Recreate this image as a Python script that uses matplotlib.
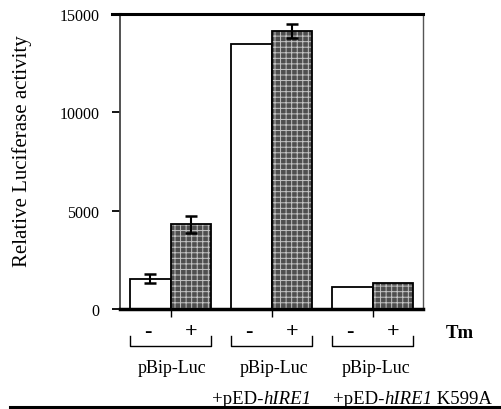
import matplotlib
matplotlib.use("Agg")
import matplotlib.pyplot as plt
from matplotlib.lines import Line2D
import matplotlib.transforms as mtransforms
import numpy as np

# ---- data ----
groups = ["pBip-Luc", "pBip-Luc\n+pED-hIRE1", "pBip-Luc\n+pED-hIRE1 K599A"]
minus_vals = [1550, 13500, 1100]      # Tm -
minus_err = [250, 0, 0]
plus_vals = [4300, 14150, 1300]       # Tm +
plus_err = [450, 350, 0]
yticks = [0, 5000, 10000, 15000]

plt.rcParams['font.family'] = ['Liberation Serif', 'DejaVu Serif']
plt.rcParams['hatch.linewidth'] = 0.7

W, H = 501, 410
fig = plt.figure(figsize=(W / 100, H / 100), dpi=100)
ax = fig.add_axes([120 / W, 1 - 310 / H, 303 / W, 295 / H])

x = np.arange(len(groups))
bw = 0.4
ax.bar(x - bw / 2, minus_vals, width=bw, facecolor='white', edgecolor='black', linewidth=1.3, zorder=2)
ax.bar(x + bw / 2, plus_vals, width=bw, facecolor='#4e4e4e', edgecolor='#c4c4c4', hatch='+++', linewidth=0, zorder=2)
ax.bar(x + bw / 2, plus_vals, width=bw, fill=False, edgecolor='black', linewidth=1.3, zorder=3)

me = np.array(minus_err)
pe = np.array(plus_err)
mask_m = me > 0
mask_p = pe > 0
ax.errorbar((x - bw / 2)[mask_m], np.array(minus_vals)[mask_m], yerr=me[mask_m], fmt='none',
            ecolor='black', elinewidth=1.5, capsize=4, capthick=1.8, zorder=4)
ax.errorbar((x + bw / 2)[mask_p], np.array(plus_vals)[mask_p], yerr=pe[mask_p], fmt='none',
            ecolor='black', elinewidth=1.5, capsize=4, capthick=1.8, zorder=4)

ax.set_xlim(-0.5, 2.5)
ax.set_ylim(0, 15000)
ax.set_yticks(yticks)
ax.set_yticklabels([str(v) for v in yticks], fontsize=11.5)
ax.set_xticks(x)
ax.set_xticklabels([])
ax.tick_params(axis='y', direction='out', length=6, width=1.3, pad=9)
ax.tick_params(axis='x', direction='out', length=6, width=1.0)

ax.spines['top'].set_linewidth(2.2)
ax.spines['bottom'].set_linewidth(2.5)
ax.spines['left'].set_linewidth(1.3)
ax.spines['left'].set_color('#444444')
ax.spines['right'].set_linewidth(1.0)
ax.spines['right'].set_color('#555555')
# extend top line left like a tick
ax.plot([-0.5 - 8 / 101, -0.5], [15000, 15000], color='black', lw=2.2, clip_on=False)

fig.text(22 / W, 1 - 151 / H, "Relative Luciferase activity", rotation=90,
         ha='center', va='center', fontsize=15)

tr = ax.get_xaxis_transform()
for i in x:
    ax.text(i - bw / 2 - 0.02, -0.075, "-", transform=tr, ha='center', va='center', fontsize=16, clip_on=False)
    ax.text(i + bw / 2, -0.075, "+", transform=tr, ha='center', va='center', fontsize=16,
            fontweight='bold', clip_on=False)
    xl, xr = i - 0.40, i + 0.40
    ax.add_line(Line2D([xl, xl, xr, xr], [-0.092, -0.125, -0.125, -0.092], transform=tr,
                       color='black', lw=1.0, clip_on=False))

ax.text(2.86, -0.078, "Tm", transform=tr, ha='center', va='center', fontsize=13.5, fontweight='bold', clip_on=False)

# group labels
ax.text(0.02, -0.197, "pBip-Luc", transform=tr, ha='center', va='center', fontsize=13, clip_on=False)
ax.text(1.03, -0.197, "pBip-Luc", transform=tr, ha='center', va='center', fontsize=13, clip_on=False)
ax.text(2.04, -0.197, "pBip-Luc", transform=tr, ha='center', va='center', fontsize=13, clip_on=False)


def rich_text(x0, y0, pieces, fs):
    off = 0.0
    for s, style in pieces:
        t = ax.text(x0, y0, s, style=style, fontsize=fs, ha='left', va='baseline', clip_on=False,
                    transform=mtransforms.offset_copy(tr, fig=fig, x=off, y=0, units='dots'))
        fig.canvas.draw()
        off += t.get_window_extent().width


rich_text(0.41, -0.32, [("+pED-", 'normal'), ("hIRE1", 'italic')], 13.5)
rich_text(1.61, -0.32, [("+pED-", 'normal'), ("hIRE1", 'italic'), ("\u00a0K599A", 'normal')], 13.5)

# bottom rule
fig.add_artist(Line2D([10 / W, 1.0], [1 - 408 / H, 1 - 408 / H], transform=fig.transFigure, color='black', lw=2.2))

fig.savefig("out.png", dpi=100)
